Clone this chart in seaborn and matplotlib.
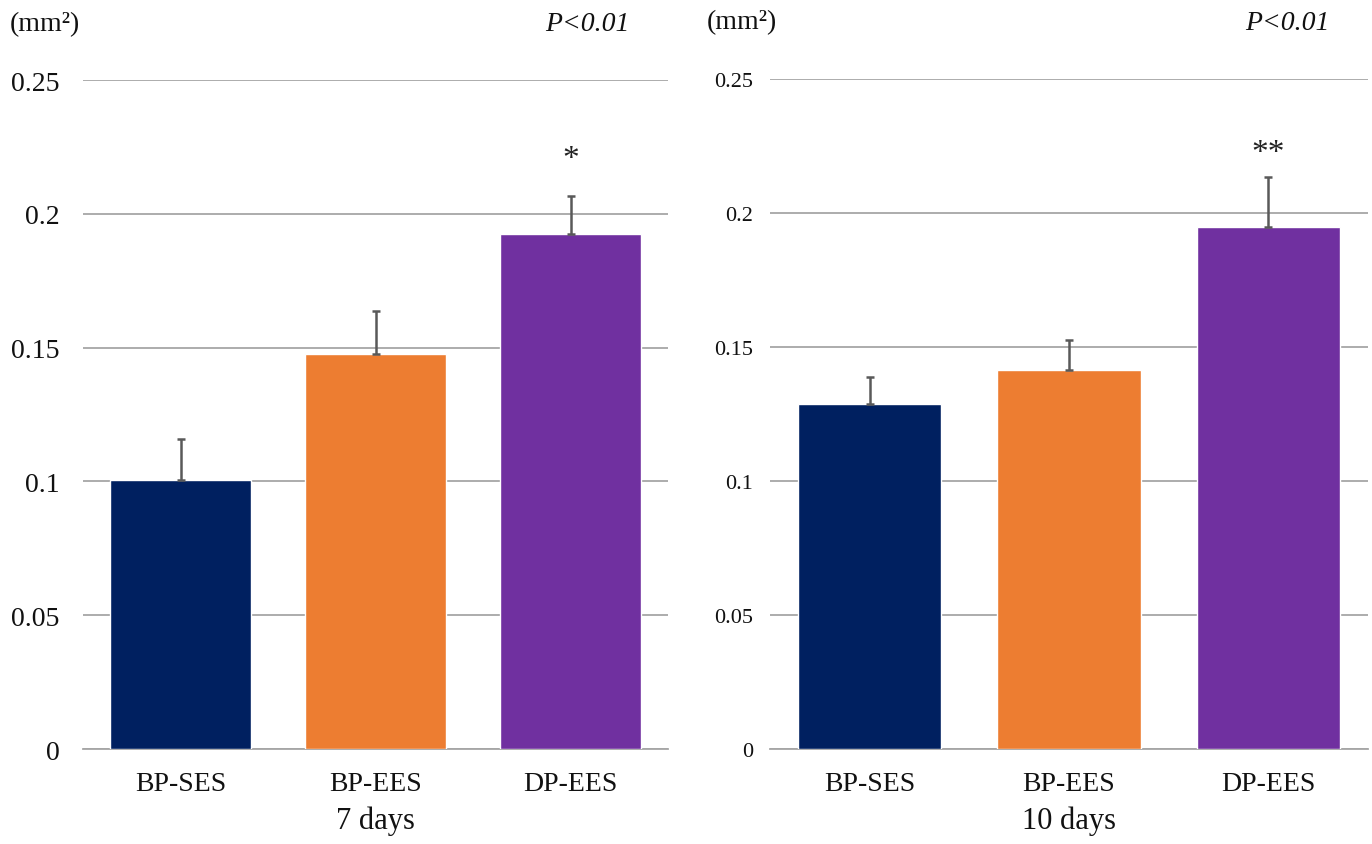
import numpy as np
import pandas as pd
import matplotlib
matplotlib.use("Agg")
import matplotlib.pyplot as plt
import seaborn as sns

groups = ["BP-SES", "BP-EES", "DP-EES"]
colors = ["#002060", "#ED7D31", "#7030A0"]

# 7 days
mean_7d = [0.1005, 0.1476, 0.1924]
err_7d = [0.0153, 0.0161, 0.0143]
# 10 days
mean_10d = [0.1287, 0.1414, 0.1948]
err_10d = [0.0101, 0.0112, 0.0186]

# label, means, errs, mark, mark offset, tick size, tick pad, unit x
panels = [
    ("7 days", mean_7d, err_7d, "*", 0.008, 20, 17, -0.125),
    ("10 days", mean_10d, err_10d, "**", 0.0035, 16, 12, -0.105),
]

sns.set_theme(style="white")
plt.rcParams["font.family"] = ["Liberation Serif", "DejaVu Serif"]

fig = plt.figure(figsize=(13.72, 8.45), dpi=100)
axes = [
    fig.add_axes([0.0605, 0.1124, 0.4264, 0.7917]),
    fig.add_axes([0.5612, 0.1124, 0.4359, 0.7929]),
]

for ax, (label, means, errs, star, off, tick_fs, pad, ux) in zip(axes, panels):
    df = pd.DataFrame({"group": groups, "value": means})
    sns.barplot(data=df, x="group", y="value", hue="group", palette=colors,
                width=0.72, errorbar=None, legend=False, ax=ax, zorder=3,
                saturation=1)
    xs = np.arange(len(groups))
    ax.errorbar(xs, means, yerr=[np.zeros(len(errs)), errs], fmt="none",
                ecolor="#595959", elinewidth=1.8, capsize=3, capthick=1.8,
                zorder=4)
    # significance mark above the DP-EES bar
    ax.text(xs[-1], means[-1] + errs[-1] + off, star, ha="center",
            va="bottom", fontsize=24, color="#222222")

    ax.set_xlim(-0.5, 2.5)
    ax.set_ylim(0, 0.25)
    ax.set_yticks([0, 0.05, 0.1, 0.15, 0.2, 0.25])
    ax.set_yticklabels(["0", "0.05", "0.1", "0.15", "0.2", "0.25"])
    ax.yaxis.grid(True, color="#a6a6a6", linewidth=1.3, zorder=0)
    ax.set_axisbelow(True)
    for s in ["top", "right", "left"]:
        ax.spines[s].set_visible(False)
    ax.spines["bottom"].set_color("#a6a6a6")
    ax.spines["bottom"].set_linewidth(1.3)
    ax.tick_params(axis="y", labelsize=tick_fs, length=0, pad=pad,
                   colors="#111111")
    ax.tick_params(axis="x", labelsize=20, length=0, pad=16, colors="#111111")
    ax.set_ylabel("")
    ax.set_xlabel(label, fontsize=22, color="#111111", labelpad=7)
    ax.text(ux, 1.085, "(mm²)", transform=ax.transAxes, fontsize=20,
            ha="left", va="center", color="#111111")
    ax.text(0.935, 1.085, "P<0.01", transform=ax.transAxes, fontsize=20,
            style="italic", ha="right", va="center", color="#111111")

fig.savefig("out.png", dpi=100)
